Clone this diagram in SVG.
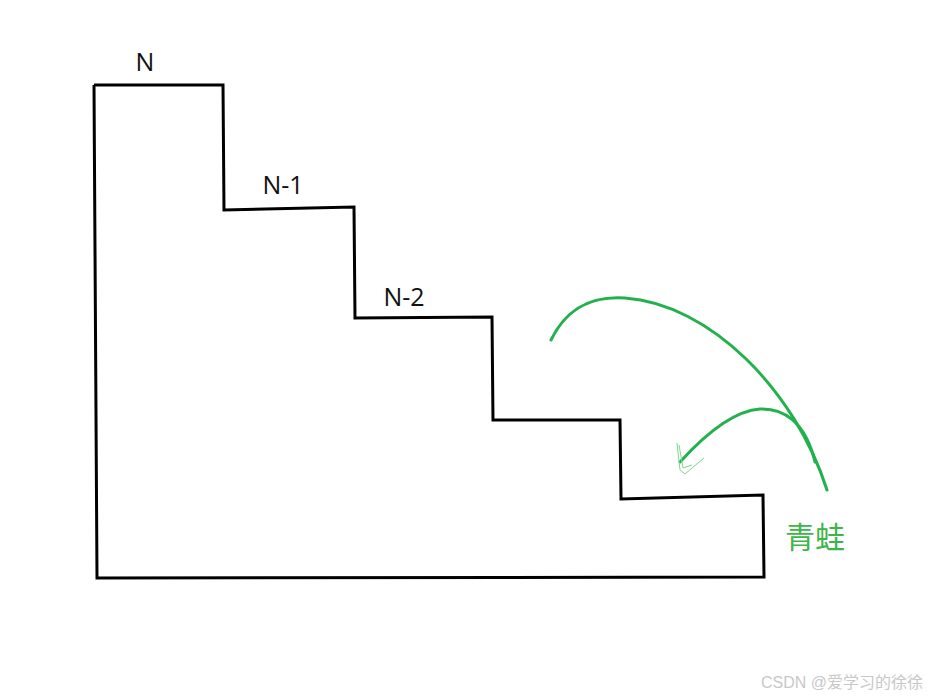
<svg xmlns="http://www.w3.org/2000/svg" width="931" height="697" viewBox="0 0 931 697">
<style>
.stair{fill:none;stroke:#000;stroke-width:3;stroke-linejoin:miter}
.lbl{font-family:"Open Sans","Noto Sans",sans-serif;font-size:25px;fill:#111}
.jump{fill:none;stroke:#22b14c;stroke-width:3;stroke-linecap:round}
.tip{fill:none;stroke:#7fd38f;stroke-width:1}
</style>
<rect width="931" height="697" fill="#fff"/>
<g id="stairs">
<polyline class="stair" points="94,85 223,85 224,210 354,207 355,318 492,317 493,420 620,420 621,499 763,495 764,577 97,578 94,85"/>
</g>
<g id="labels">
<text class="lbl" x="145" y="71" text-anchor="middle">N</text>
<text class="lbl" x="283" y="194" text-anchor="middle">N-1</text>
<text class="lbl" x="404" y="306" text-anchor="middle">N-2</text>
</g>
<g id="connectors">
<path class="jump" d="M551,340 C568,305 595,296 625,298 C710,304 795,390 827,490"/>
<path class="jump" d="M815,462 C805,420 782,408 760,409 C730,411 700,440 680,462"/>
<path class="tip" d="M677,443 L680,470 L685,474 L704,458 M679,445 L683,468 L692,465"/>
</g>
<g id="frog">
<text x="815" y="548" text-anchor="middle" font-family="'Noto Sans CJK SC',sans-serif" font-size="30" fill="#3db54a">青蛙</text>
</g>
<text x="842" y="688" text-anchor="middle" font-family="'Liberation Sans','Noto Sans CJK SC',sans-serif" font-size="16" fill="#c8c8c8">CSDN @爱学习的徐徐</text>
</svg>
